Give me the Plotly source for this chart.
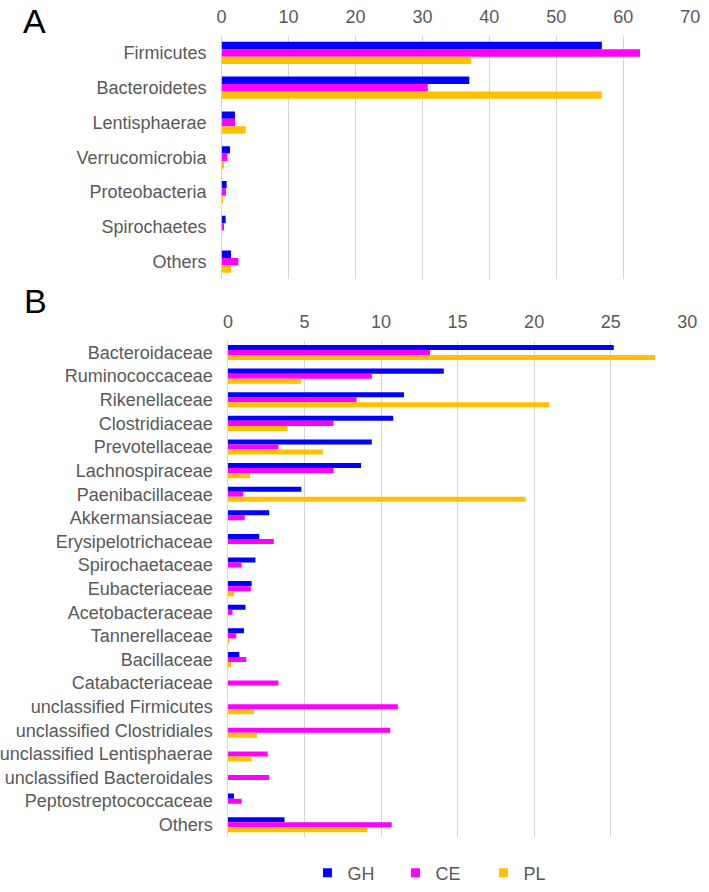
import plotly.graph_objects as go

# ---------------- data ----------------
phyla = ["Firmicutes", "Bacteroidetes", "Lentisphaerae", "Verrucomicrobia",
         "Proteobacteria", "Spirochaetes", "Others"]
phyla_gh = [56.8, 37.0, 2.0, 1.25, 0.75, 0.6, 1.4]
phyla_ce = [62.5, 30.8, 2.0, 0.85, 0.65, 0.35, 2.5]
phyla_pl = [37.3, 56.8, 3.6, 0.35, 0.2, 0.0, 1.4]

families = ["Bacteroidaceae", "Ruminococcaceae", "Rikenellaceae", "Clostridiaceae",
            "Prevotellaceae", "Lachnospiraceae", "Paenibacillaceae", "Akkermansiaceae",
            "Erysipelotrichaceae", "Spirochaetaceae", "Eubacteriaceae", "Acetobacteraceae",
            "Tannerellaceae", "Bacillaceae", "Catabacteriaceae", "unclassified Firmicutes",
            "unclassified Clostridiales", "unclassified Lentisphaerae",
            "unclassified Bacteroidales", "Peptostreptococcaceae", "Others"]
fam_gh = [25.2, 14.1, 11.5, 10.8, 9.4, 8.7, 4.8, 2.7, 2.05, 1.8, 1.55, 1.15,
          1.05, 0.75, 0.0, 0.0, 0.0, 0.0, 0.0, 0.4, 3.7]
fam_ce = [13.2, 9.4, 8.4, 6.9, 3.3, 6.9, 1.0, 1.1, 3.0, 0.9, 1.5, 0.3,
          0.55, 1.2, 3.3, 11.1, 10.6, 2.6, 2.7, 0.9, 10.7]
fam_pl = [27.9, 4.8, 21.0, 3.9, 6.2, 1.45, 19.45, 0.0, 0.0, 0.0, 0.4, 0.0,
          0.1, 0.2, 0.0, 1.7, 1.9, 1.55, 0.0, 0.0, 9.1]

series_names = ["GH", "CE", "PL"]
colors = ["#0000FF", "#FF00FF", "#FFC000"]

xticks_a = [0, 10, 20, 30, 40, 50, 60, 70]
xticks_b = [0, 5, 10, 15, 20, 25, 30]

# ---------------- figure ----------------
W, H = 709, 892
FONT = "Liberation Sans, Arial, sans-serif"
GRAY = "#595959"
GRID = "#d6d6d6"

fig = go.Figure()

for name, col, vals in zip(series_names, colors, [phyla_gh, phyla_ce, phyla_pl]):
    fig.add_trace(go.Bar(y=phyla, x=vals, orientation="h", name=name,
                         marker=dict(color=col, line=dict(width=0)),
                         xaxis="x", yaxis="y", showlegend=False))
for name, col, vals in zip(series_names, colors, [fam_gh, fam_ce, fam_pl]):
    fig.add_trace(go.Bar(y=families, x=vals, orientation="h", name=name,
                         marker=dict(color=col, line=dict(width=0)),
                         xaxis="x2", yaxis="y2", showlegend=False))
# legend entries (square markers)
for name, col in zip(series_names, colors):
    fig.add_trace(go.Scatter(x=[None], y=[None], mode="markers", name=name,
                             marker=dict(symbol="square", size=9, color=col),
                             xaxis="x2", yaxis="y2", showlegend=True))


def px_x(p):
    return p / W


def px_y(p):
    return 1 - p / H


axis_common = dict(showgrid=True, gridcolor=GRID, gridwidth=1, zeroline=True,
                   zerolinecolor=GRID, zerolinewidth=1, showline=False, ticks="",
                   tickfont=dict(family=FONT, size=18, color=GRAY), side="top",
                   ticklabelstandoff=8, fixedrange=True)
yaxis_common = dict(autorange="reversed", showgrid=False, zeroline=False, showline=False,
                    ticks="", tickfont=dict(family=FONT, size=18, color=GRAY),
                    ticklabelstandoff=14, fixedrange=True)

fig.update_layout(
    width=W, height=H,
    margin=dict(l=0, r=0, t=0, b=0),
    paper_bgcolor="white", plot_bgcolor="white",
    barmode="group", bargap=0.36, bargroupgap=0.0,
    font=dict(family=FONT, color=GRAY),
    xaxis=dict(domain=[px_x(221.3), px_x(700)], range=[0, 70], tickvals=xticks_a,
               anchor="y", **axis_common),
    yaxis=dict(domain=[px_y(282.5), px_y(36)], anchor="x", **yaxis_common),
    xaxis2=dict(domain=[px_x(227.7), px_x(697)], range=[0, 30], tickvals=xticks_b,
                anchor="y2", **axis_common),
    yaxis2=dict(domain=[px_y(847), px_y(345)], anchor="x2", **yaxis_common),
    showlegend=True,
    legend=dict(orientation="h", x=px_x(309), y=px_y(884), xanchor="left",
                yanchor="middle", font=dict(family=FONT, size=18, color=GRAY),
                entrywidth=43, entrywidthmode="pixels", itemwidth=30,
                bgcolor="rgba(0,0,0,0)", tracegroupgap=0),
    annotations=[
        dict(text="A", x=px_x(30), y=px_y(21), xref="paper", yref="paper",
             showarrow=False, font=dict(family=FONT, size=34, color="black"),
             xanchor="center", yanchor="middle"),
        dict(text="B", x=px_x(31), y=px_y(305), xref="paper", yref="paper",
             showarrow=False, font=dict(family=FONT, size=34, color="black"),
             xanchor="center", yanchor="middle"),
    ],
)

fig.write_html(
    "out.html",
    config={"displayModeBar": False, "staticPlot": True},
    post_script="document.body.style.margin='0';document.body.style.overflow='hidden';",
)
